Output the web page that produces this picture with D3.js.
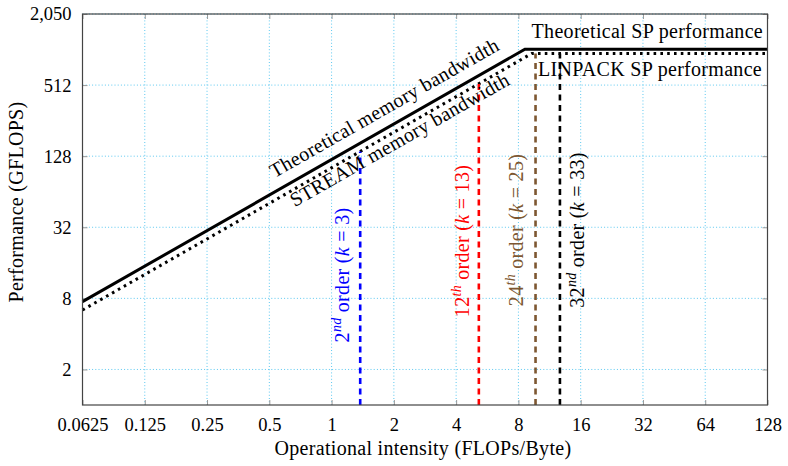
<!DOCTYPE html>
<html><head><meta charset="utf-8">
<script src="https://cdn.jsdelivr.net/npm/d3@7/dist/d3.min.js"></script>
<style>body{margin:0;background:#fff}svg{display:block}text{font-family:"Liberation Serif","DejaVu Serif",serif;}</style>
</head><body>
<svg id="c" width="788" height="466" font-family="Liberation Serif, serif"></svg>
<script>
// ---- data ----
const xTicks = [0.0625, 0.125, 0.25, 0.5, 1, 2, 4, 8, 16, 32, 64, 128];
const xTickLabels = ["0.0625","0.125","0.25","0.5","1","2","4","8","16","32","64","128"];
const yTicks = [2, 8, 32, 128, 512, 2048];
const yTickLabels = ["2","8","32","128","512","2,050"];
const theoX = [0.0625, 8.6, 128];
const theoY = [7.5, 1030, 1030];
const streamX = [0.0625, 9.3, 128];
const streamY = [6.37, 950, 950];
const orderX = [1.375, 5.15, 9.68, 12.7];
const orderTop = [140, 525, 950, 950];
const orderNum = ["2", "12", "24", "32"];
const orderSup = ["nd", "th", "th", "nd"];
const orderK = ["3", "13", "25", "33"];
const orderColor = ["#0000ff", "#ff0000", "#7d5731", "#000000"];

// ---- layout ----
const L = 82.5, R = 767.5, T = 14, B = 405;
const svg = d3.select("#c");
const x = d3.scaleLog().base(2).domain([0.0625, 128]).range([L, R]);
const y = d3.scaleLog().base(2).domain([1, 2048]).range([B, T]);
const FS = 18.5;   // tick labels
const FW = 20;     // word labels
const LS = 0.3;    // letter spacing for word labels

// grid
const grid = svg.append("g").attr("stroke", "#5cc8f0").attr("stroke-width", 1).attr("stroke-dasharray", "1,2.2");
xTicks.forEach(v => grid.append("line").attr("x1", x(v)).attr("x2", x(v)).attr("y1", T).attr("y2", B));
yTicks.forEach(v => grid.append("line").attr("x1", L).attr("x2", R).attr("y1", y(v)).attr("y2", y(v)));

// axes (ticks inside)
const tk = 5;
const axB = svg.append("g").attr("transform", `translate(0,${B})`).call(d3.axisBottom(x).tickValues(xTicks).tickSizeInner(-tk).tickSizeOuter(0).tickFormat((d,i)=>xTickLabels[i]).tickPadding(20));
const axT = svg.append("g").attr("transform", `translate(0,${T})`).call(d3.axisTop(x).tickValues(xTicks).tickSizeInner(-tk).tickSizeOuter(0).tickFormat(""));
const axL = svg.append("g").attr("transform", `translate(${L},0)`).call(d3.axisLeft(y).tickValues(yTicks).tickSizeInner(-tk).tickSizeOuter(0).tickFormat((d,i)=>yTickLabels[i]).tickPadding(11));
const axR = svg.append("g").attr("transform", `translate(${R},0)`).call(d3.axisRight(y).tickValues(yTicks).tickSizeInner(-tk).tickSizeOuter(0).tickFormat(""));
[axB, axT, axL, axR].forEach(a => {
  a.attr("font-family", null);
  a.select(".domain").remove();
  a.selectAll(".tick line").attr("stroke", "#999").attr("stroke-width", 1);
  a.selectAll(".tick text").attr("font-size", FS).attr("fill", "#000");
});
axB.selectAll(".tick text").attr("dy", "0.35em");

// rooflines
const lineGen = d3.line().x(d => x(d[0])).y(d => y(d[1]));
svg.append("path").datum(theoX.map((v,i)=>[v, theoY[i]])).attr("d", lineGen)
  .attr("fill","none").attr("stroke","#000").attr("stroke-width",3);
svg.append("path").datum(streamX.map((v,i)=>[v, streamY[i]])).attr("d", lineGen)
  .attr("fill","none").attr("stroke","#000").attr("stroke-width",3).attr("stroke-dasharray","2.6,4.2");

// vertical order lines
orderX.forEach((v,i) => {
  svg.append("line").attr("x1", x(v)).attr("x2", x(v)).attr("y1", y(1)).attr("y2", y(orderTop[i]))
    .attr("stroke", orderColor[i]).attr("stroke-width", 2.6).attr("stroke-dasharray", "6,4.5");
});
const labelCY = [275, 241, 230, 230];
const labelBX = [349, 469, 523, 584];
orderX.forEach((v,i) => {
  const t = svg.append("text").attr("transform", `translate(${labelBX[i]},${labelCY[i]}) rotate(-90)`)
    .attr("text-anchor","middle").attr("font-size", FW).attr("letter-spacing", LS).attr("fill", orderColor[i]);
  t.append("tspan").text(orderNum[i]);
  t.append("tspan").text(orderSup[i]).attr("font-size", 14).attr("font-style","italic").attr("dy", -8);
  t.append("tspan").text(" order (").attr("dy", 8);
  t.append("tspan").text("k").attr("font-style","italic");
  t.append("tspan").text(" = " + orderK[i] + ")");
});

// diagonal labels
const ang = -Math.atan((y(1)-y(2))/(x(2)-x(1))) * 180/Math.PI;
function onLine(px, X, Y) {
  const xv = x.invert(px);
  const yv = Y[0] * xv / X[0];
  return [px, y(yv)];
}
const p1 = onLine(393.5, theoX, theoY);
svg.append("text").attr("transform", `translate(${p1[0]},${p1[1]}) rotate(${ang})`).attr("dy", -12)
  .attr("text-anchor","middle").attr("font-size", FW).attr("letter-spacing", LS).text("Theoretical memory bandwidth");
const p2 = onLine(395, streamX, streamY);
svg.append("text").attr("transform", `translate(${p2[0]},${p2[1]}) rotate(${ang})`).attr("dy", 16)
  .attr("text-anchor","middle").attr("font-size", FW).attr("letter-spacing", LS).text("STREAM memory bandwidth");

// horizontal labels
svg.append("text").attr("x", 763).attr("y", 38).attr("text-anchor","end").attr("font-size", FW).attr("letter-spacing", LS).text("Theoretical SP performance");
svg.append("text").attr("x", 762).attr("y", 76).attr("text-anchor","end").attr("font-size", FW).attr("letter-spacing", LS).text("LINPACK SP performance");

// frame
svg.append("rect").attr("x", L).attr("y", T).attr("width", R-L).attr("height", B-T)
  .attr("fill","none").attr("stroke","#444").attr("stroke-width",1.2);

// axis titles
svg.append("text").attr("x", 423).attr("y", 455).attr("text-anchor","middle").attr("font-size", FW).attr("letter-spacing", LS).text("Operational intensity (FLOPs/Byte)");
svg.append("text").attr("transform", "translate(23,202) rotate(-90)").attr("text-anchor","middle").attr("font-size", FW).attr("letter-spacing", LS).text("Performance (GFLOPS)");
</script>
</body></html>
